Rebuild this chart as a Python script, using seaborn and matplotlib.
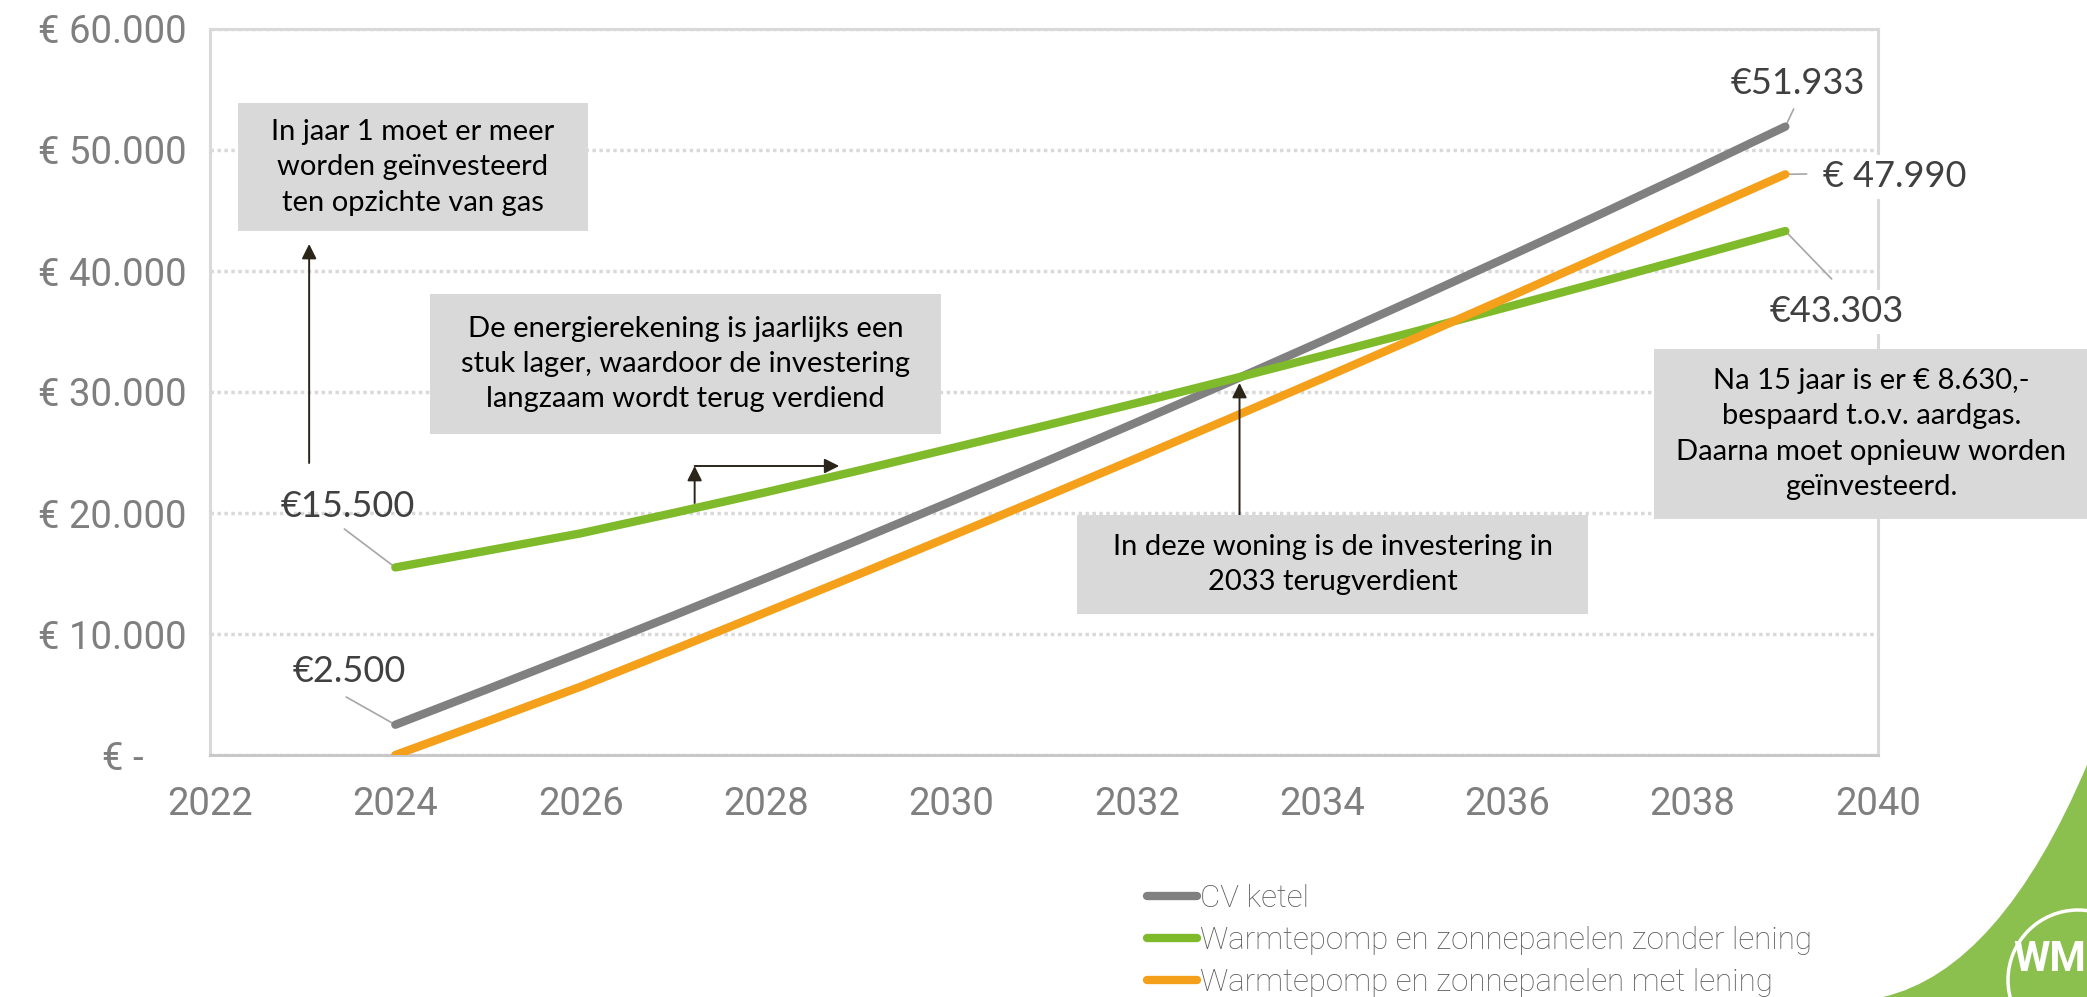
import pandas as pd
import matplotlib.pyplot as plt
import matplotlib.patches as mpatches
from matplotlib.path import Path
from matplotlib.lines import Line2D
import seaborn as sns

# -------------------------
# Data
# -------------------------
years = list(range(2024, 2040))
cv_ketel = [2500, 5460, 8470, 11520, 14620, 17770, 20960, 24200,
            27490, 30820, 34210, 37650, 41140, 44680, 48280, 51933]
wp_zonder_lening = [15500, 16900, 18320, 20000, 21720, 23510, 25350, 27200,
                    29090, 31020, 32990, 34990, 37020, 39080, 41180, 43303]
wp_met_lening = [0, 2800, 5650, 8700, 11800, 14930, 18100, 21300,
                 24530, 27800, 31100, 34430, 37800, 41200, 44600, 47990]

series_names = ["CV ketel",
                "Warmtepomp en zonnepanelen zonder lening",
                "Warmtepomp en zonnepanelen met lening"]
series_colors = ["#808080", "#7FBA2A", "#F5A01A"]

y_ticks = [0, 10000, 20000, 30000, 40000, 50000, 60000]
y_tick_labels = ["€ -\u2007\u2007", "€ 10.000", "€ 20.000", "€ 30.000",
                 "€ 40.000", "€ 50.000", "€ 60.000"]
x_ticks = list(range(2022, 2041, 2))

df = pd.DataFrame({
    "jaar": years * 3,
    "waarde": cv_ketel + wp_zonder_lening + wp_met_lening,
    "scenario": [n for n in series_names for _ in years],
})

# -------------------------
# Plot
# -------------------------
sns.set_style("white")
plt.rcParams["font.family"] = ["Roboto", "DejaVu Sans"]

W, H = 2087, 997
fig = plt.figure(figsize=(W / 100, H / 100), dpi=100)
ax = fig.add_axes([210 / W, 1 - 755 / H, 1668 / W, 726 / H])

sns.lineplot(data=df, x="jaar", y="waarde", hue="scenario",
             palette=dict(zip(series_names, series_colors)),
             linewidth=6, legend=False, ax=ax, zorder=3)
for ln in ax.lines:
    ln.set_solid_capstyle("round")

ax.set_xlim(2022, 2040)
ax.set_ylim(0, 60000)
ax.set_xticks(x_ticks)
ax.set_yticks(y_ticks)
ax.set_yticklabels(y_tick_labels)
ax.set_xlabel("")
ax.set_ylabel("")
ax.tick_params(axis="both", length=0, labelsize=27.5, labelcolor="#7F7F7F")
ax.tick_params(axis="y", pad=17)
ax.tick_params(axis="x", pad=22)
for lab in ax.get_xticklabels() + ax.get_yticklabels():
    lab.set_fontweight("normal")

ax.yaxis.grid(True, linestyle=(0, (1, 1)), color="#D9D9D9", linewidth=2.5)
ax.xaxis.grid(False)
for side, sp in ax.spines.items():
    sp.set_visible(True)
    sp.set_color("#D9D9D9")
    sp.set_linewidth(2.2)
ax.spines["bottom"].set_color("#C8C8C8")

# -------------------------
# Data labels
# -------------------------
lbl_kw = dict(fontsize=26, color="#404040", family="Lato",
              ha="center", va="center", zorder=6, clip_on=False)
lead_kw = dict(color="#A6A6A6", linewidth=1.2, zorder=2.8, clip_on=False)

ax.plot([2023.45, 2024], [18678, wp_zonder_lening[0]], **lead_kw)
ax.text(2023.49, 20496, "€15.500", **lbl_kw)
ax.plot([2023.47, 2024], [4793, cv_ketel[0]], **lead_kw)
ax.text(2023.50, 6942, "€2.500", **lbl_kw)

ax.plot([2039.09, 2039], [53388, cv_ketel[-1]], **lead_kw)
ax.text(2039.14, 55537, "€51.933", **lbl_kw)
ax.plot([2039, 2039.23], [wp_met_lening[-1], 48017], **lead_kw)
ax.text(2040.18, 47769, "€ 47.990",
        bbox=dict(facecolor="white", edgecolor="none", pad=4), **lbl_kw)
ax.plot([2039, 2039.50], [wp_zonder_lening[-1], 39339], **lead_kw)
ax.text(2039.55, 36612, "€43.303",
        bbox=dict(facecolor="white", edgecolor="none", pad=4), **lbl_kw)

# -------------------------
# Annotation boxes and arrows
# -------------------------
box_kw = dict(facecolor="#D9D9D9", edgecolor="none", zorder=5, clip_on=False)
txt_kw = dict(fontsize=21, color="black", family="Lato", ha="center",
              va="center", linespacing=1.45, zorder=7, clip_on=False)

ax.add_patch(mpatches.Rectangle((2022.30, 43306), 3.78, 10574, **box_kw))
ax.text(2024.19, 48590,
        "In jaar 1 moet er meer\nworden geïnvesteerd\nten opzichte van gas", **txt_kw)

ax.add_patch(mpatches.Rectangle((2024.37, 26530), 5.52, 11570, **box_kw))
ax.text(2027.13, 32315,
        "De energierekening is jaarlijks een\nstuk lager, waardoor de investering\n"
        "langzaam wordt terug verdiend", **txt_kw)

ax.add_patch(mpatches.Rectangle((2031.36, 11650), 5.51, 8185, **box_kw))
ax.text(2034.115, 15742,
        "In deze woning is de investering in\n2033 terugverdient", **txt_kw)

ax.add_patch(mpatches.Rectangle((2037.58, 19500), 5.5, 14050, **box_kw))
ax.text(2039.93, 26530,
        "Na 15 jaar is er € 8.630,-\nbespaard t.o.v. aardgas.\n"
        "Daarna moet opnieuw worden\ngeïnvesteerd.", **txt_kw)

arr_kw = dict(arrowstyle="-|>", color="#2B2419", lw=1.4, mutation_scale=22,
              shrinkA=0, shrinkB=0)
ax.annotate("", xy=(2023.07, 42231), xytext=(2023.07, 24132),
            arrowprops=arr_kw, zorder=4)
ax.annotate("", xy=(2027.23, 23884), xytext=(2027.23, 20826),
            arrowprops=arr_kw, zorder=4)
ax.annotate("", xy=(2028.79, 23884), xytext=(2027.23, 23884),
            arrowprops=arr_kw, zorder=4)
ax.annotate("", xy=(2033.11, 30744), xytext=(2033.11, 19835),
            arrowprops=arr_kw, zorder=4)

# -------------------------
# Legend
# -------------------------
handles = [Line2D([0], [0], color=c, lw=6, solid_capstyle="round")
           for c in series_colors]
leg = fig.legend(handles, series_names, loc="upper left",
                 bbox_to_anchor=(1147 / W, 1 - 884 / H), frameon=False,
                 borderpad=0, borderaxespad=0, handlelength=1.6,
                 handletextpad=0.1, labelspacing=0.42,
                 prop=dict(family="Roboto", weight="light", size=22.5))
for t in leg.get_texts():
    t.set_color("#595959")

# -------------------------
# Logo corner
# -------------------------
def fpt(x, y):
    return (x / W, 1 - y / H)

verts = [fpt(1883, 997), fpt(2000, 970), fpt(2087, 765),
         fpt(2100, 765), fpt(2100, 1005), fpt(1883, 1005), fpt(1883, 997)]
codes = [Path.MOVETO, Path.CURVE3, Path.CURVE3,
         Path.LINETO, Path.LINETO, Path.LINETO, Path.CLOSEPOLY]
fig.add_artist(mpatches.PathPatch(Path(verts, codes), facecolor="#8CC04E",
                                  edgecolor="none", transform=fig.transFigure))
fig.add_artist(mpatches.Ellipse(fpt(2078, 980), 140 / W, 140 / H,
                                facecolor="none", edgecolor="white", lw=2.5,
                                transform=fig.transFigure))
fig.text(2013 / W, 1 - 959 / H, "WM", color="white", fontsize=30,
         fontweight="bold", va="center", ha="left")

fig.savefig("out.png", dpi=100)
